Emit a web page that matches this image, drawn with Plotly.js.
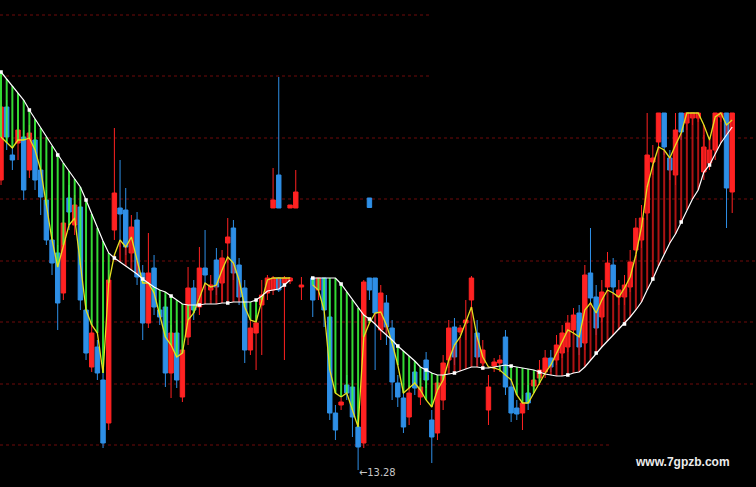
<!DOCTYPE html>
<html><head><meta charset="utf-8">
<script src="https://cdn.plot.ly/plotly-3.0.1.min.js"></script>
<style>html,body{margin:0;padding:0;background:#000;}#chart{width:756px;height:487px;}</style>
</head><body><div id="chart"></div>
<script>
// Daily OHLC (price units), index = trading day
const openP = [15.60,16.184,15.80,15.896,15.944,15.68,15.92,15.68,15.44,15.12,15.016,14.696,15.456,15.24,15.384,14.56,14.104,14.264,14.00,13.656,
15.20,15.376,15.36,15.016,15.28,14.856,14.456,14.896,14.56,14.584,14.056,14.376,13.864,14.344,14.736,14.584,14.896,14.72,14.96,14.776,
15.096,15.216,14.92,14.736,14.24,14.376,14.60,14.696,14.72,14.816,14.776,14.792,null,14.744,null,14.816,14.72,14.816,14.504,13.736,
13.80,13.96,13.944,13.624,13.496,14.816,14.816,14.40,14.616,14.416,13.976,13.856,13.704,14.064,13.864,14.16,13.68,13.576,13.84,14.16,
14.424,14.384,14.456,14.64,14.376,14.136,13.76,14.112,14.136,14.344,13.944,13.776,13.736,13.896,13.952,14.016,14.064,14.176,14.16,14.216,
14.264,14.40,14.536,14.296,14.856,14.664,14.504,14.744,14.92,14.664,14.664,14.744,15.04,15.12,15.336,15.744,15.904,16.136,15.776,15.64,
16.136,16.056,16.096,16.096,15.664,15.736,15.84,16.104,16.136,15.504];
const highP = [16.24,16.24,15.864,16.08,16.00,16.04,16.00,15.76,15.52,15.184,15.08,15.36,15.56,15.48,15.44,14.64,14.44,14.32,14.08,14.88,
16.016,15.76,15.536,15.32,15.344,14.92,15.176,15.00,14.64,14.68,14.44,14.48,14.32,14.904,14.80,15.064,15.20,14.84,15.056,15.04,
15.296,15.28,14.976,14.80,14.48,14.52,14.80,14.84,14.832,14.824,14.832,14.824,null,14.824,null,14.816,14.816,14.816,14.80,13.80,
13.856,14.04,14.00,13.72,14.80,14.816,14.816,14.76,14.68,14.48,14.04,13.92,13.96,14.12,14.016,14.224,13.76,14.04,14.20,14.48,
14.496,14.44,14.64,14.832,14.48,14.32,14.04,14.176,14.20,14.40,14.00,13.84,13.88,13.96,14.064,14.16,14.24,14.24,14.36,14.44,
14.52,14.576,14.60,14.92,15.216,14.76,14.80,15.024,14.976,14.80,14.84,15.04,15.296,15.40,16.136,15.88,16.136,16.136,15.84,16.136,
16.136,16.136,16.136,16.136,15.96,15.92,16.136,16.136,16.136,16.136];
const lowP = [15.56,15.84,15.68,15.76,15.44,15.616,15.52,15.32,15.08,14.84,14.40,14.64,15.20,15.16,14.56,14.16,14.064,14.00,13.456,13.60,
15.12,15.064,15.00,14.944,14.76,14.32,14.416,14.52,14.44,13.944,13.856,13.936,13.824,14.28,14.48,14.52,14.72,14.64,14.68,14.64,
14.936,14.80,14.60,14.136,14.20,14.08,14.20,14.64,14.68,14.704,14.16,14.768,null,14.64,null,14.504,14.64,14.424,13.68,13.52,
13.76,13.84,13.544,13.28,13.456,14.64,14.08,14.32,14.28,13.84,13.784,13.576,13.64,13.88,13.80,13.936,13.336,13.52,13.76,14.096,
14.12,14.36,14.32,14.56,14.12,14.08,13.64,14.064,14.064,13.88,13.664,13.68,13.60,13.76,13.904,13.96,14.016,14.064,14.12,14.176,
14.224,14.36,14.20,14.24,14.60,14.36,14.464,14.704,14.68,14.60,14.60,14.704,14.976,15.056,15.28,15.64,15.84,15.80,15.60,15.56,
15.92,16.00,16.04,16.064,15.60,15.68,15.76,16.064,15.216,15.336];
const closeP = [16.184,15.944,15.76,16.00,15.52,15.976,15.60,15.464,15.12,14.936,14.616,15.256,15.344,15.40,14.64,14.216,14.376,14.056,13.496,14.80,
15.496,15.328,15.064,15.224,14.824,14.456,14.856,14.584,14.504,14.056,14.376,14.00,14.24,14.736,14.56,14.896,14.84,14.76,14.744,14.976,
15.144,14.856,14.664,14.24,14.416,14.456,14.68,14.816,14.816,14.72,14.816,14.816,null,14.76,null,14.64,14.816,14.56,13.736,13.60,
13.824,13.896,13.704,13.464,14.784,14.72,14.536,14.696,14.424,13.984,13.864,13.624,13.896,13.936,13.944,14.00,13.544,13.976,14.136,14.416,
14.184,14.416,14.48,14.816,14.184,14.24,13.944,14.144,14.16,13.944,13.736,13.728,13.816,13.816,14.00,14.08,14.176,14.104,14.28,14.376,
14.456,14.52,14.264,14.84,14.656,14.416,14.704,14.936,14.744,14.72,14.76,14.944,15.216,15.296,15.80,15.776,16.136,15.864,15.68,16.00,
15.984,16.136,16.136,16.136,15.864,15.84,16.136,16.136,15.536,16.136];

// Slow moving average (white) and fast average (yellow)
const maSlow = [16.464,16.408,16.352,16.296,16.24,16.16,16.088,16.016,15.944,15.872,15.80,15.736,15.672,15.608,15.544,15.44,15.328,15.216,15.112,15.016,
14.976,14.944,14.912,14.88,14.848,14.808,14.776,14.744,14.72,14.704,14.672,14.64,14.608,14.60,14.60,14.60,14.608,14.608,14.608,14.616,
14.616,14.624,14.624,14.624,14.624,14.64,14.672,14.712,14.72,14.728,14.76,14.80,null,null,null,14.816,14.816,14.816,14.816,14.816,
14.768,14.704,14.64,14.576,14.52,14.488,14.448,14.40,14.36,14.32,14.272,14.232,14.192,14.152,14.104,14.08,14.056,14.04,14.04,14.048,
14.056,14.072,14.088,14.104,14.104,14.096,14.096,14.104,14.112,14.12,14.112,14.104,14.096,14.088,14.08,14.064,14.048,14.04,14.032,14.032,
14.04,14.056,14.064,14.104,14.16,14.216,14.264,14.312,14.36,14.40,14.448,14.504,14.56,14.624,14.72,14.808,14.912,15.008,15.096,15.168,
15.264,15.36,15.448,15.52,15.664,15.72,15.808,15.896,15.96,16.024];
const maFast = [15.944,15.896,15.856,15.92,15.92,15.936,15.84,15.68,15.40,15.12,14.904,15.08,15.24,15.296,14.92,14.56,14.44,14.376,14.056,14.776,
15.00,15.12,15.064,15.144,14.96,14.776,14.776,14.696,14.52,14.344,14.28,14.184,14.216,14.48,14.536,14.664,14.776,14.744,14.76,14.88,
14.984,14.936,14.80,14.584,14.48,14.464,14.64,14.80,14.816,14.816,14.816,14.816,null,null,null,14.76,14.72,14.56,14.08,13.896,
13.864,13.896,13.76,13.624,14.344,14.456,14.536,14.544,14.44,14.296,14.12,13.896,13.936,13.976,13.92,13.84,13.784,13.92,14.00,14.16,
14.28,14.344,14.464,14.584,14.344,14.184,14.104,14.096,14.08,14.04,14.00,13.88,13.816,13.816,13.896,13.976,14.056,14.12,14.216,14.304,
14.40,14.376,14.344,14.56,14.616,14.536,14.64,14.72,14.696,14.664,14.736,14.824,15.00,15.224,15.544,15.72,15.864,15.84,15.776,15.88,
15.976,16.136,16.136,16.136,16.04,15.92,16.104,16.136,16.04,16.08];

// Detached fragment of bars drawn higher on the screen
const fragDay   = [48, 49, 51, 52, 65];
const fragOpen  = [15.376, 15.64, 15.376, 15.376, 15.456];
const fragHigh  = [15.696, 16.424, 15.40, 15.68, 15.456];
const fragLow   = [15.376, 15.376, 15.376, 15.376, 15.376];
const fragClose = [15.44, 15.376, 15.40, 15.504, 15.38];

const lowLabel = '←13.28';
const lowLabelDay = 63, lowLabelPrice = 13.28;
const watermark = 'www.7gpzb.com';

const N = openP.length;
const days = Array.from({length: N}, (_, i) => i);

const RED = '#ff2222', BLUE = '#2e8fe6';

// stripes between fast and slow averages
const gx = [], gy = [], rx = [], ry = [];
for (let i = 0; i < N; i++) {
  const a = maFast[i], b = maSlow[i];
  if (a == null || b == null) continue;
  if (a < b) { gx.push(i, i, null); gy.push(a, b, null); }
  else { rx.push(i, i, null); ry.push(a, b, null); }
}
const dotX = days.filter(i => i % 5 === 0 && maSlow[i] != null);
const dotY = dotX.map(i => maSlow[i]);

const traces = [
  {type: 'candlestick', x: days, open: openP, high: highP, low: lowP, close: closeP,
   increasing: {line: {color: RED, width: 1}, fillcolor: RED},
   decreasing: {line: {color: BLUE, width: 1}, fillcolor: BLUE},
   whiskerwidth: 0, hoverinfo: 'skip'},
  {type: 'candlestick', x: fragDay, open: fragOpen, high: fragHigh, low: fragLow, close: fragClose,
   increasing: {line: {color: RED, width: 1}, fillcolor: RED},
   decreasing: {line: {color: BLUE, width: 1}, fillcolor: BLUE},
   whiskerwidth: 0, hoverinfo: 'skip'},
  {type: 'scatter', mode: 'lines', x: gx, y: gy, line: {color: '#3cff3c', width: 2}, opacity: 0.85, hoverinfo: 'skip'},
  {type: 'scatter', mode: 'lines', x: rx, y: ry, line: {color: '#d81818', width: 2}, opacity: 0.8, hoverinfo: 'skip'},
  {type: 'scatter', mode: 'lines', x: days, y: maFast, line: {color: '#e4e020', width: 1.3}, connectgaps: false, hoverinfo: 'skip'},
  {type: 'scatter', mode: 'lines', x: days, y: maSlow, line: {color: '#ffffff', width: 1.2}, connectgaps: false, hoverinfo: 'skip'},
  {type: 'scatter', mode: 'markers', x: dotX, y: dotY, marker: {color: '#ffffff', size: 3.5, symbol: 'square'}, hoverinfo: 'skip'}
];

const H = 487, W = 756;
function gl(p, x0, x1) {
  return {type: 'line', xref: 'paper', yref: 'paper', x0: x0 / W, x1: x1 / W, y0: 1 - p / H, y1: 1 - p / H,
          line: {color: '#6e0a0a', width: 1, dash: 'dot'}, layer: 'below'};
}
const shapes = [gl(15, 0, 430), gl(76, 0, 430), gl(138, 0, 756), gl(199, 0, 756),
  gl(261, 0, 196), gl(261, 500, 756), gl(322, 0, 756), gl(384, 0, 756), gl(445, 0, 610)];

const layout = {
  width: W, height: H, margin: {l: 0, r: 0, t: 0, b: 0},
  paper_bgcolor: '#000', plot_bgcolor: '#000', showlegend: false, hovermode: false,
  boxgap: 0.22, boxgroupgap: 0,
  xaxis: {visible: false, range: [-0.18, 133.2], rangeslider: {visible: false}, fixedrange: true},
  yaxis: {visible: false, range: [13.144, 17.04], fixedrange: true},
  shapes: shapes,
  annotations: [
    {x: lowLabelDay - 0.25, y: lowLabelPrice, xref: 'x', yref: 'y', text: lowLabel, showarrow: false,
     xanchor: 'left', yanchor: 'top', yshift: 6,
     font: {family: 'Liberation Sans Narrow, DejaVu Sans Condensed, sans-serif', size: 11, color: '#c8c8c8'}},
    {x: 682 / W, y: 1 - 462 / H, xref: 'paper', yref: 'paper', text: watermark, showarrow: false,
     xanchor: 'center', yanchor: 'middle',
     font: {family: 'Liberation Sans, Arial, sans-serif', size: 12, color: '#ececec', weight: 'bold'}}
  ]
};
Plotly.newPlot('chart', traces, layout, {staticPlot: true, displayModeBar: false});
</script></body></html>
